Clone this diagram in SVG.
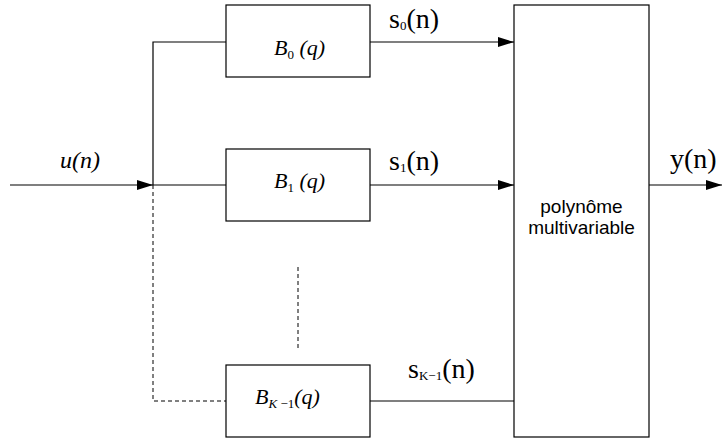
<svg xmlns="http://www.w3.org/2000/svg" width="722" height="438" viewBox="0 0 722 438">
<defs>
<marker id="ah" markerWidth="16" markerHeight="10" refX="16" refY="5" orient="auto" markerUnits="userSpaceOnUse">
<path d="M0,0 L16,5 L0,10 Z" fill="#000"/>
</marker>
<style>
.box{fill:#fff;stroke:#000;stroke-width:1.2}
.ln{fill:none;stroke:#000;stroke-width:1.2}
.dash{fill:none;stroke:#000;stroke-width:1;stroke-dasharray:4,3}
.m{font-family:'Liberation Serif','Times New Roman','DejaVu Serif',serif;font-style:italic;font-size:22px}
.u{font-size:24px}
.s{font-family:'Liberation Serif','Times New Roman','DejaVu Serif',serif;font-size:28px}
.sub{font-size:13px}
.p{font-family:'Liberation Sans',Arial,sans-serif;font-size:19px}
</style>
</defs>
<rect width="722" height="438" fill="#fff"/>
<g id="connectors">
<path class="ln" d="M10,185 H153" marker-end="url(#ah)"/>
<path class="ln" d="M153,185 V42 H226"/>
<path class="ln" d="M153,185 H226"/>
<path class="dash" d="M153,185 V401 H226"/>
<path class="dash" d="M298,267 V348"/>
<path class="ln" d="M370,42 H514" marker-end="url(#ah)"/>
<path class="ln" d="M370,185 H514" marker-end="url(#ah)"/>
<path class="ln" d="M370,401 H514"/>
<path class="ln" d="M649,185 H722" marker-end="url(#ah)"/>
</g>
<g id="B0">
<rect class="box" x="226" y="5" width="144" height="72"/>
<text class="m" x="274" y="55">B<tspan class="sub" font-style="normal" dy="4">0</tspan><tspan dy="-4"> (q)</tspan></text>
</g>
<g id="B1">
<rect class="box" x="226" y="149" width="144" height="72"/>
<text class="m" x="274" y="188">B<tspan class="sub" font-style="normal" dy="4">1</tspan><tspan dy="-4"> (q)</tspan></text>
</g>
<g id="BK">
<rect class="box" x="226" y="365" width="144" height="72"/>
<text class="m" x="255" y="404">B<tspan class="sub" dy="4">K</tspan><tspan class="sub" font-style="normal"> −1</tspan><tspan dy="-4">(q)</tspan></text>
</g>
<g id="poly">
<rect class="box" x="514" y="5" width="135" height="432"/>
<text class="p" x="581.5" y="213" text-anchor="middle">polynôme</text>
<text class="p" x="581.5" y="234" text-anchor="middle">multivariable</text>
</g>
<g id="labels">
<text class="m u" x="60" y="168">u(n)</text>
<text class="s" x="389" y="28">s<tspan class="sub" dy="2">0</tspan><tspan dy="-2">(n)</tspan></text>
<text class="s" x="389" y="170">s<tspan class="sub" dy="2">1</tspan><tspan dy="-2">(n)</tspan></text>
<text class="s" x="408" y="378">s<tspan class="sub" dy="2">K−1</tspan><tspan dy="-2">(n)</tspan></text>
<text class="s" x="670" y="168">y(n)</text>
</g>
</svg>
